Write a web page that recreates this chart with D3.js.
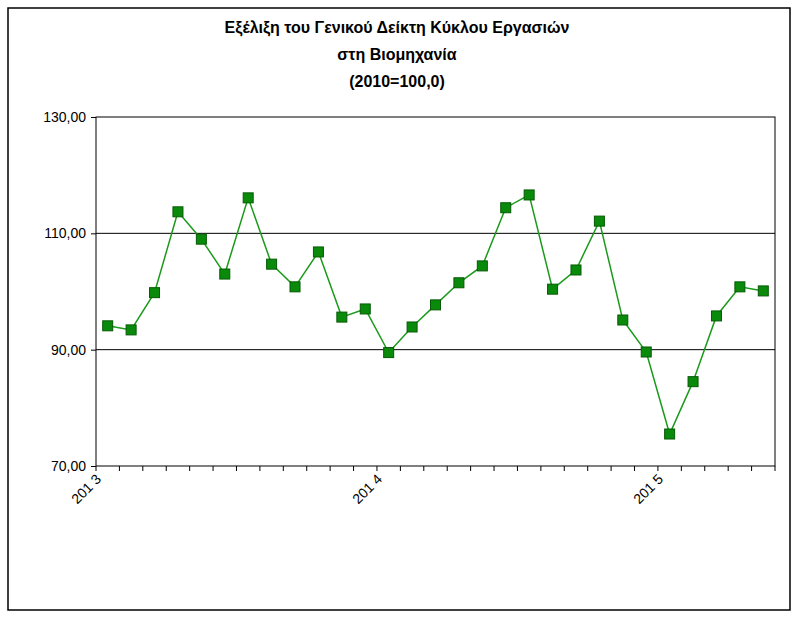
<!DOCTYPE html>
<html><head><meta charset="utf-8">
<script src="https://cdn.jsdelivr.net/npm/d3@7"></script>
<style>body{margin:0;background:#fff}text{font-family:"Liberation Sans",Arial,sans-serif}</style>
</head><body>
<svg id="c" width="800" height="618"></svg>
<script>
// monthly index, Jan 2013 .. May 2015
var months = d3.range(29)
var values = [94.1, 93.4, 99.8, 113.7, 109.0, 103.0, 116.1, 104.7, 100.8, 106.8, 95.6, 97.0,
  89.5, 93.9, 97.7, 101.5, 104.4, 114.4, 116.6, 100.4, 103.7, 112.1, 95.1, 89.6,
  75.5, 84.5, 95.8, 100.8, 100.1]
var yTicks = [70, 90, 110, 130]
var xLabels = {0: '201 3', 12: '201 4', 24: '201 5'}
var titleLines = ['Εξέλιξη του Γενικού Δείκτη Κύκλου Εργασιών', 'στη Βιομηχανία', '(2010=100,0)']

var svg = d3.select('#c')
var pLeft = 96, pRight = 775, pTop = 117, pBottom = 466

svg.append('rect').attr('x', 8).attr('y', 8).attr('width', 782).attr('height', 602)
  .attr('fill', '#fff').attr('stroke', '#000').attr('stroke-width', 1.5)

svg.selectAll('text.t').data(titleLines).enter().append('text')
  .attr('x', 397).attr('y', function (d, i) { return 33 + i * 27 })
  .attr('text-anchor', 'middle').attr('font-size', 16).attr('font-weight', 'bold').text(function (d) { return d })

var x = d3.scaleBand().domain(months).range([pLeft, pRight])
var y = d3.scaleLinear().domain([70, 130]).range([pBottom, pTop])
var fmt = function (v) { return d3.format('.2f')(v).replace('.', ',') }

var g = svg.append('g')
g.selectAll('line.grid').data([90, 110]).enter().append('line')
  .attr('x1', pLeft).attr('x2', pRight).attr('y1', y).attr('y2', y).attr('stroke', '#000')
g.append('rect').attr('x', pLeft).attr('y', pTop).attr('width', pRight - pLeft).attr('height', pBottom - pTop)
  .attr('fill', 'none').attr('stroke', '#000')

var yAxis = g.append('g').attr('transform', 'translate(' + pLeft + ',0)')
  .call(d3.axisLeft(y).tickValues(yTicks).tickFormat(fmt).tickSize(5))
yAxis.select('.domain').remove()
yAxis.selectAll('text').attr('font-size', 14).attr('fill', '#000').attr('dx', -2)

var xAxis = g.append('g').attr('transform', 'translate(0,' + pBottom + ')')
xAxis.selectAll('line').data(d3.range(30)).enter().append('line')
  .attr('x1', function (d) { return pLeft + d * x.step() })
  .attr('x2', function (d) { return pLeft + d * x.step() })
  .attr('y1', 0).attr('y2', 5).attr('stroke', '#000')
xAxis.selectAll('text').data(Object.keys(xLabels)).enter().append('text')
  .attr('transform', function (d) { return 'translate(' + (x(+d) + 6) + ',14) rotate(-45)' })
  .attr('text-anchor', 'end').attr('font-size', 14).text(function (d) { return xLabels[d] })

var line = d3.line().x(function (d, i) { return x(i) + x.bandwidth() / 2 }).y(function (d) { return y(d) })
g.append('path').datum(values).attr('d', line).attr('fill', 'none').attr('stroke', '#1a9a1a').attr('stroke-width', 1.5)
g.selectAll('rect.m').data(values).enter().append('rect')
  .attr('x', function (d, i) { return x(i) + x.bandwidth() / 2 - 5 })
  .attr('y', function (d) { return y(d) - 5 })
  .attr('width', 10).attr('height', 10).attr('fill', '#0a8a0a').attr('stroke', '#055a05')
</script>
</body></html>
